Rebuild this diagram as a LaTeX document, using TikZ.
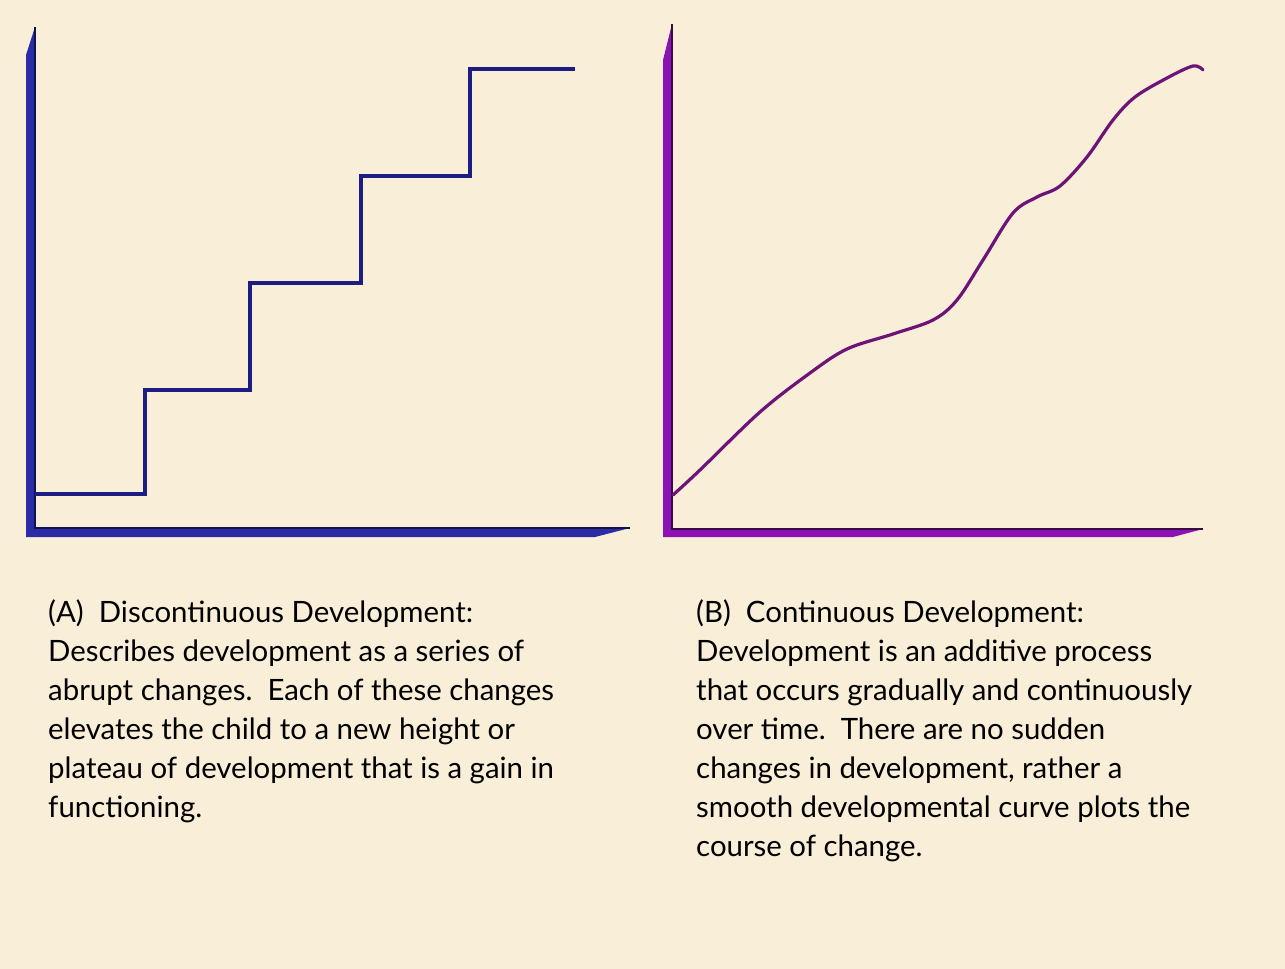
\documentclass[tikz,border=0pt]{standalone}
\usepackage{fontspec}
\setmainfont{Lato}
\definecolor{paper}{HTML}{F9EFD8}
\definecolor{bluebar}{HTML}{2B2BA6}
\definecolor{blueedge}{HTML}{12124F}
\definecolor{stepcol}{HTML}{1C1C82}
\definecolor{purplebar}{HTML}{8C12B4}
\definecolor{purpleedge}{HTML}{3A0846}
\definecolor{curvecol}{HTML}{6E1478}
\tikzset{
  caption/.style={anchor=north west, inner sep=0pt, align=left, text=black,
    font=\fontsize{29.4}{39}\selectfont},
}
\begin{document}
\begin{tikzpicture}[x=1pt,y=-1pt]
\fill[paper] (0,0) rectangle (1285,969);
\useasboundingbox (0,0) rectangle (1285,969);
% left axes
\fill[bluebar] (26,55) -- (35,27) -- (35,528) -- (630,528) -- (595,537) -- (26,537) -- cycle;
\draw[blueedge, line width=1.2pt] (35,27) -- (35,528) -- (630,528);
% steps
\draw[stepcol, line width=3.2pt, line join=miter]
  (35,494) -- (145,494) -- (145,390) -- (250,390) -- (250,283) -- (361,283)
  -- (361,176) -- (470,176) -- (470,69) -- (575,69);
% right axes
\fill[purplebar] (663,60) -- (672,24) -- (672,529) -- (1203,529) -- (1173,537) -- (663,537) -- cycle;
\draw[purpleedge, line width=1.2pt] (672,24) -- (672,529) -- (1203,529);
% curve
\draw[curvecol, line width=3.2pt, line cap=round, line join=round]
  plot[smooth, tension=0.55] coordinates {
  (673,495) (700,470) (760,412) (810,373) (847,349) (893,334) (933,320)
  (957,300) (983,260) (1013,213) (1037,197) (1060,186) (1087,157)
  (1113,120) (1135,97) (1167,78) (1193,66) (1203,70)};
% captions
\node[caption] (capA) at (48,599) {(A)\ \ Discontinuous Development:\\
Describes development as a series of\\
abrupt changes.\ \ Each of these changes\\
elevates the child to a new height or\\
plateau of development that is a gain in\\
functioning.};
\node[caption] (capB) at (696,599) {(B)\ \ Continuous Development:\\
Development is an additive process\\
that occurs gradually and continuously\\
over time.\ \ There are no sudden\\
changes in development, rather a\\
smooth developmental curve plots the\\
course of change.};
\end{tikzpicture}
\end{document}
